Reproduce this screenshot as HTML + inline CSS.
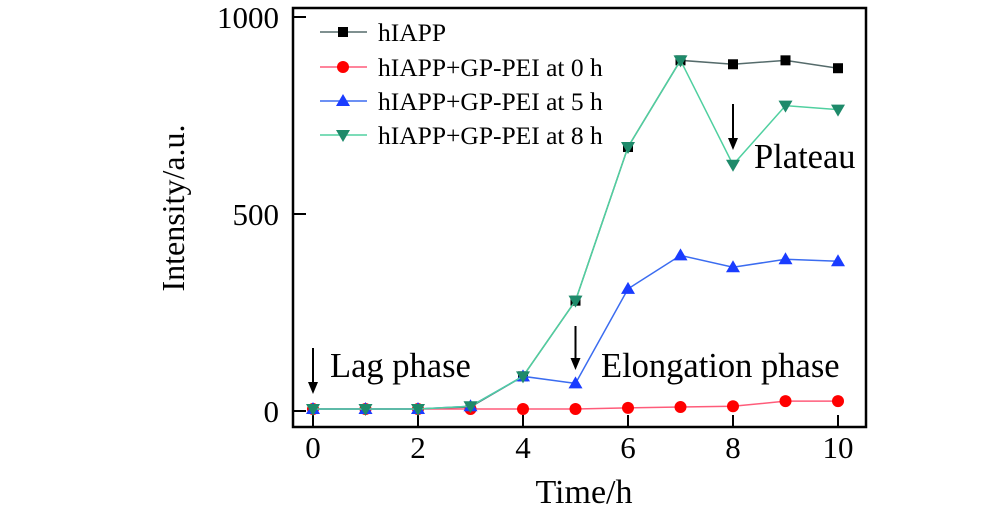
<!DOCTYPE html>
<html><head><meta charset="utf-8"><style>
body{margin:0;background:#fff;}
svg text{font-family:"Liberation Serif",serif;fill:#000;}
</style></head><body>
<svg width="1000" height="514" viewBox="0 0 1000 514">
<g id="plot"></g>
</svg>
<script>
const categories=[0,1,2,3,4,5,6,7,8,9,10];
const seriesNames=["hIAPP","hIAPP+GP-PEI at 0 h","hIAPP+GP-PEI at 5 h","hIAPP+GP-PEI at 8 h"];
const hIAPP=[5,5,5,10,88,280,670,890,880,890,870];
const gp0=[5,5,5,5,5,5,8,10,12,25,25];
const gp5=[5,5,5,12,88,70,310,395,365,385,380];
const gp8=[5,5,5,12,88,280,670,890,625,775,765];
const xTicks=[0,2,4,6,8,10];
const yTicks=[0,500,1000];
const NS="http://www.w3.org/2000/svg";
const g=document.getElementById('plot');
const X=v=>313+v*52.5, Y=v=>411-v*0.394;
function el(t,a,p){const e=document.createElementNS(NS,t);for(const k in a)e.setAttribute(k,a[k]);(p||g).appendChild(e);return e;}
const frame=el('rect',{x:293,y:8,width:573,height:419,fill:'none',stroke:'#000','stroke-width':2.5});


xTicks.forEach(v=>{
 const l=el('line',{x1:X(v),x2:X(v),y1:427,y2:415,stroke:'#000','stroke-width':2});
 
 
 const t=el('text',{x:X(v),y:458,'text-anchor':'middle','font-size':31});t.textContent=v;
 
 
});
yTicks.forEach(v=>{
 const l=el('line',{x1:293,x2:306,y1:Y(v),y2:Y(v),stroke:'#000','stroke-width':2});
 
 
 const t=el('text',{x:279,y:Y(v)+11,'text-anchor':'end','font-size':31});t.textContent=v;
 
 
});
let t=el('text',{x:584,y:503,'text-anchor':'middle','font-size':34});t.textContent='Time/h';


t=el('text',{x:0,y:0,'text-anchor':'middle','font-size':32,transform:'translate(184,208) rotate(-90)'});t.textContent='Intensity/a.u.';


function marker(type,x,y,c,parent){
 let m;
 if(type==='sq')m=el('rect',{x:x-5,y:y-5,width:10,height:10,fill:c},parent);
 else if(type==='ci')m=el('circle',{cx:x,cy:y,r:6,fill:c},parent);
 else if(type==='up')m=el('polygon',{points:`${x},${y-7} ${x-7},${y+5} ${x+7},${y+5}`,fill:c},parent);
 else m=el('polygon',{points:`${x},${y+7} ${x-7},${y-5} ${x+7},${y-5}`,fill:c},parent);
 return m;
}
const series=[[hIAPP,'#556b6b','#000','sq'],[gp0,'#ff5c7a','#f00','ci'],[gp5,'#3b6cf0','#1a3cff','up'],[gp8,'#50d0a0','#1e8a6a','dn']];
series.forEach((s,i)=>{
 const grp=el('g',{});
 
 
 el('polyline',{points:s[0].map((v,j)=>X(categories[j])+','+Y(v)).join(' '),fill:'none',stroke:s[1],'stroke-width':1.5},grp);
 s[0].forEach((v,j)=>{const m=marker(s[3],X(categories[j]),Y(v),s[2],grp);
  
  });
 const ly=[32,67,101,135][i];
 const lg=el('g',{});
 
 
 el('line',{x1:320,x2:367,y1:ly,y2:ly,stroke:s[1],'stroke-width':1.5},lg);
 marker(s[3],343,ly,s[2],lg);
 const tt=el('text',{x:378,y:ly+9,'font-size':25.5},lg);tt.textContent=seriesNames[i];
});
function arrow(x,y1,y2,name){
 const a=el('g',{});
 
 
 el('line',{x1:x,x2:x,y1:y1,y2:y2-8,stroke:'#000','stroke-width':2},a);
 el('polygon',{points:`${x-5},${y2-12} ${x+5},${y2-12} ${x},${y2}`,fill:'#000'},a);
}
arrow(X(0),348,394,'lag-arrow');
arrow(X(5),326,370,'elongation-arrow');
arrow(X(8),104,150,'plateau-arrow');
[['Lag phase',330,377,'lag-label'],['Elongation phase',601,377,'elongation-label'],['Plateau',754,168,'plateau-label']].forEach(a=>{
 const tx=el('text',{x:a[1],y:a[2],'font-size':34.5});tx.textContent=a[0];
 
 
});
</script>
</body></html>
